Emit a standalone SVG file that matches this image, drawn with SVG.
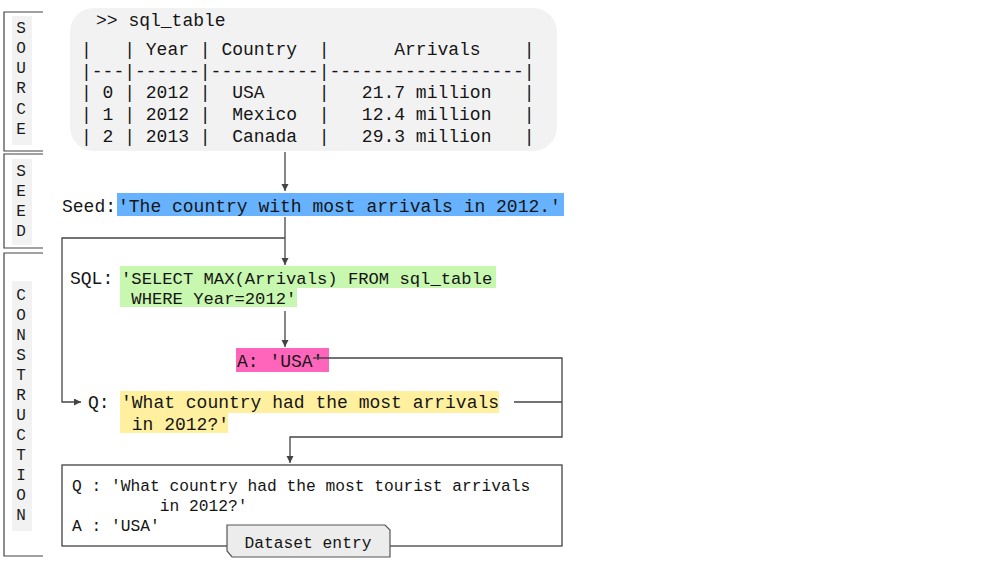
<svg xmlns="http://www.w3.org/2000/svg" width="1000" height="563" viewBox="0 0 1000 563">
<style>
.mono{font-family:"Liberation Mono","DejaVu Sans Mono",monospace;fill:#151515;white-space:pre}
.t18{font-size:18px}
.t17{font-size:17.2px}
.t16{font-size:16.25px}
.lbl{font-family:"Liberation Mono","DejaVu Sans Mono",monospace;font-size:16px;fill:#1a1a1a;text-anchor:middle}
.brk{fill:none;stroke:#444;stroke-width:1.2}
.lblbg{fill:#f2f2f2}
.conn{fill:none;stroke:#444;stroke-width:1.3}
</style>
<defs>
<marker id="ah" markerUnits="userSpaceOnUse" markerWidth="8" markerHeight="8" refX="7" refY="3.5" orient="auto">
<path d="M0,0 L7,3.5 L0,7 z" fill="#444"/>
</marker>
</defs>
<rect width="1000" height="563" fill="#ffffff"/>

<g id="label-source">
<path class="brk" d="M43,12 H4 V151 H43"/>
<rect class="lblbg" x="12" y="16" width="20" height="129"/>
<text class="lbl" x="21" y="33">S</text>
<text class="lbl" x="21" y="53">O</text>
<text class="lbl" x="21" y="73">U</text>
<text class="lbl" x="21" y="93">R</text>
<text class="lbl" x="21" y="114">C</text>
<text class="lbl" x="21" y="134">E</text>
</g>
<g id="label-seed">
<path class="brk" d="M43,154 H4 V248 H43"/>
<rect class="lblbg" x="12" y="159" width="20" height="86"/>
<text class="lbl" x="21" y="176">S</text>
<text class="lbl" x="21" y="196">E</text>
<text class="lbl" x="21" y="216">E</text>
<text class="lbl" x="21" y="236">D</text>
</g>
<g id="label-construction">
<path class="brk" d="M43,253 H4 V556 H43"/>
<rect class="lblbg" x="12" y="281" width="20" height="250"/>
<text class="lbl" x="21" y="300">C</text>
<text class="lbl" x="21" y="320">O</text>
<text class="lbl" x="21" y="340">N</text>
<text class="lbl" x="21" y="360">S</text>
<text class="lbl" x="21" y="380">T</text>
<text class="lbl" x="21" y="400">R</text>
<text class="lbl" x="21" y="420">U</text>
<text class="lbl" x="21" y="440">C</text>
<text class="lbl" x="21" y="460">T</text>
<text class="lbl" x="21" y="480">I</text>
<text class="lbl" x="21" y="500">O</text>
<text class="lbl" x="21" y="520">N</text>
</g>

<g id="node-table">
<rect x="70" y="8" width="487" height="143" rx="24" ry="24" fill="#f2f2f2"/>
<text class="mono t18" x="96" y="26">&gt;&gt; sql_table</text>
<text class="mono t18" x="81" y="55" xml:space="preserve">|   | Year | Country  |      Arrivals    |</text>
<text class="mono t18" x="81" y="77" xml:space="preserve">|---|------|----------|------------------|</text>
<text class="mono t18" x="81" y="98" xml:space="preserve">| 0 | 2012 |  USA     |   21.7 million   |</text>
<text class="mono t18" x="81" y="120" xml:space="preserve">| 1 | 2012 |  Mexico  |   12.4 million   |</text>
<text class="mono t18" x="81" y="142" xml:space="preserve">| 2 | 2013 |  Canada  |   29.3 million   |</text>
</g>

<g id="node-seed">
<text class="mono t18" x="62" y="212">Seed:</text>
<rect x="117" y="193" width="447" height="23" fill="#66b2ff"/>
<text class="mono t18" x="118" y="212">'The country with most arrivals in 2012.'</text>
</g>

<g id="node-sql">
<text class="mono t18" x="70" y="284">SQL:</text>
<rect x="120" y="266" width="376" height="22" fill="#c8f7b0"/>
<rect x="120" y="287" width="177" height="20" fill="#c8f7b0"/>
<text class="mono t17" x="121" y="284">'SELECT MAX(Arrivals) FROM sql_table</text>
<text class="mono t17" x="121" y="304" xml:space="preserve"> WHERE Year=2012'</text>
</g>

<g id="node-answer">
<rect x="236" y="348" width="93" height="24" fill="#ff66bb"/>
<text class="mono t18" x="237" y="367">A: 'USA'</text>
</g>

<g id="node-question">
<text class="mono t18" x="88" y="408">Q:</text>
<rect x="120" y="391" width="379" height="22" fill="#fff0a0"/>
<rect x="120" y="412" width="108" height="21" fill="#fff0a0"/>
<text class="mono t18" x="121" y="408">'What country had the most arrivals</text>
<text class="mono t18" x="121" y="430" xml:space="preserve"> in 2012?'</text>
</g>

<g id="node-dataset">
<rect x="62" y="465" width="500" height="81" fill="#ffffff" stroke="#333" stroke-width="1.2"/>
<text class="mono t16" x="72" y="491">Q : 'What country had the most tourist arrivals</text>
<text class="mono t16" x="72" y="511" xml:space="preserve">         in 2012?'</text>
<text class="mono t16" x="72" y="531">A : 'USA'</text>
<path d="M227,525 H385 L390,530 V557 H232 L227,551 Z" fill="#ececec" stroke="#555" stroke-width="1.2"/>
<text class="mono t16" x="308" y="548" text-anchor="middle">Dataset entry</text>
</g>

<g id="connectors">
<path class="conn" d="M285,152 V191" marker-end="url(#ah)"/>
<path class="conn" d="M285,217 V265" marker-end="url(#ah)"/>
<path class="conn" d="M285,238 H62 V402 H81" marker-end="url(#ah)"/>
<path class="conn" d="M285,311 V347" marker-end="url(#ah)"/>
<path class="conn" d="M313,358 H562 V437 H290 V463" marker-end="url(#ah)"/>
<path class="conn" d="M514,402 H562"/>
</g>
</svg>
